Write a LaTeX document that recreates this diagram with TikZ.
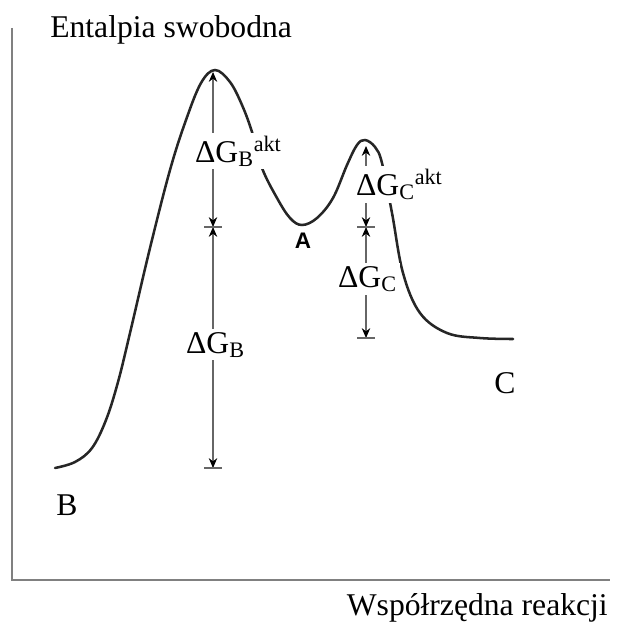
\documentclass[tikz,border=0pt]{standalone}
\usepackage{fontspec}
\setmainfont{Liberation Serif}
\setsansfont{Liberation Sans}
\usetikzlibrary{arrows.meta}

\tikzset{
  axis/.style={draw=gray, line width=1.4pt},
  curve/.style={draw=black!85, line width=1.8pt, line cap=round},
  dline/.style={draw=gray!80!black, line width=0.8pt,
    {Stealth[length=7pt,width=6pt,black]}-{Stealth[length=7pt,width=6pt,black]}},
  tickmark/.style={draw=gray!80!black, line width=0.8pt},
  lbl/.style={font=\fontsize{22.5}{27}\selectfont, inner sep=0pt},
  dlbl/.style={lbl, fill=white, inner sep=2pt, anchor=base west},
}

\begin{document}
\begin{tikzpicture}[x=0.025cm, y=0.025cm]
  \useasboundingbox (0,0) rectangle (617,-623);

  \coordinate (origin) at (12,-580);
  \coordinate (ytop) at (12,-28);
  \coordinate (xend) at (610,-580);
  \draw[axis] (ytop) -- (origin) -- (xend);

  \node[lbl, anchor=base west] (ylab) at (50,-38) {Entalpia swobodna};
  \node[lbl, anchor=base east] (xlab) at (608,-615) {Współrzędna reakcji};

  \draw[curve] plot[smooth, tension=0.6] coordinates {
    (55,-468) (75,-462) (92,-448) (106,-420) (118,-382) (130,-333)
    (150,-248) (170,-170) (186,-120) (201,-83) (215,-70) (230,-82)
    (242,-105) (252,-132) (262,-168) (277,-198) (290,-218) (302,-225)
    (317,-218) (333,-198) (347,-165) (357,-145) (365,-140) (375,-147)
    (382,-163) (392,-213) (403,-273) (420,-313) (447,-333) (480,-338)
    (513,-339)};

  \coordinate (topB) at (213,-72);
  \coordinate (midB) at (213,-227);
  \coordinate (botB) at (213,-468);
  \coordinate (topC) at (366,-146);
  \coordinate (midC) at (366,-227);
  \coordinate (botC) at (366,-338);

  \draw[dline] (midB) -- (topB);
  \draw[dline] (midB) -- (botB);
  \draw[dline] (midC) -- (topC);
  \draw[dline] (midC) -- (botC);
  \foreach \p in {midB,botB,midC,botC}
    \draw[tickmark] (\p) ++(-9,0) -- ++(18,0);

  \node[dlbl] (dGBakt) at (192,-162) {ΔG\textsubscript{B}\textsuperscript{akt}};
  \node[dlbl] (dGB) at (183,-353) {ΔG\textsubscript{B}};
  \node[dlbl] (dGCakt) at (353,-195) {ΔG\textsubscript{C}\textsuperscript{akt}};
  \node[dlbl] (dGC) at (335,-287) {ΔG\textsubscript{C}};

  \node[lbl, anchor=base, font=\fontsize{16}{19}\sffamily\bfseries] (labA) at (303,-248) {A};
  \node[lbl, anchor=base] (labB) at (67,-515) {B};
  \node[lbl, anchor=base] (labC) at (505,-393) {C};
\end{tikzpicture}
\end{document}
